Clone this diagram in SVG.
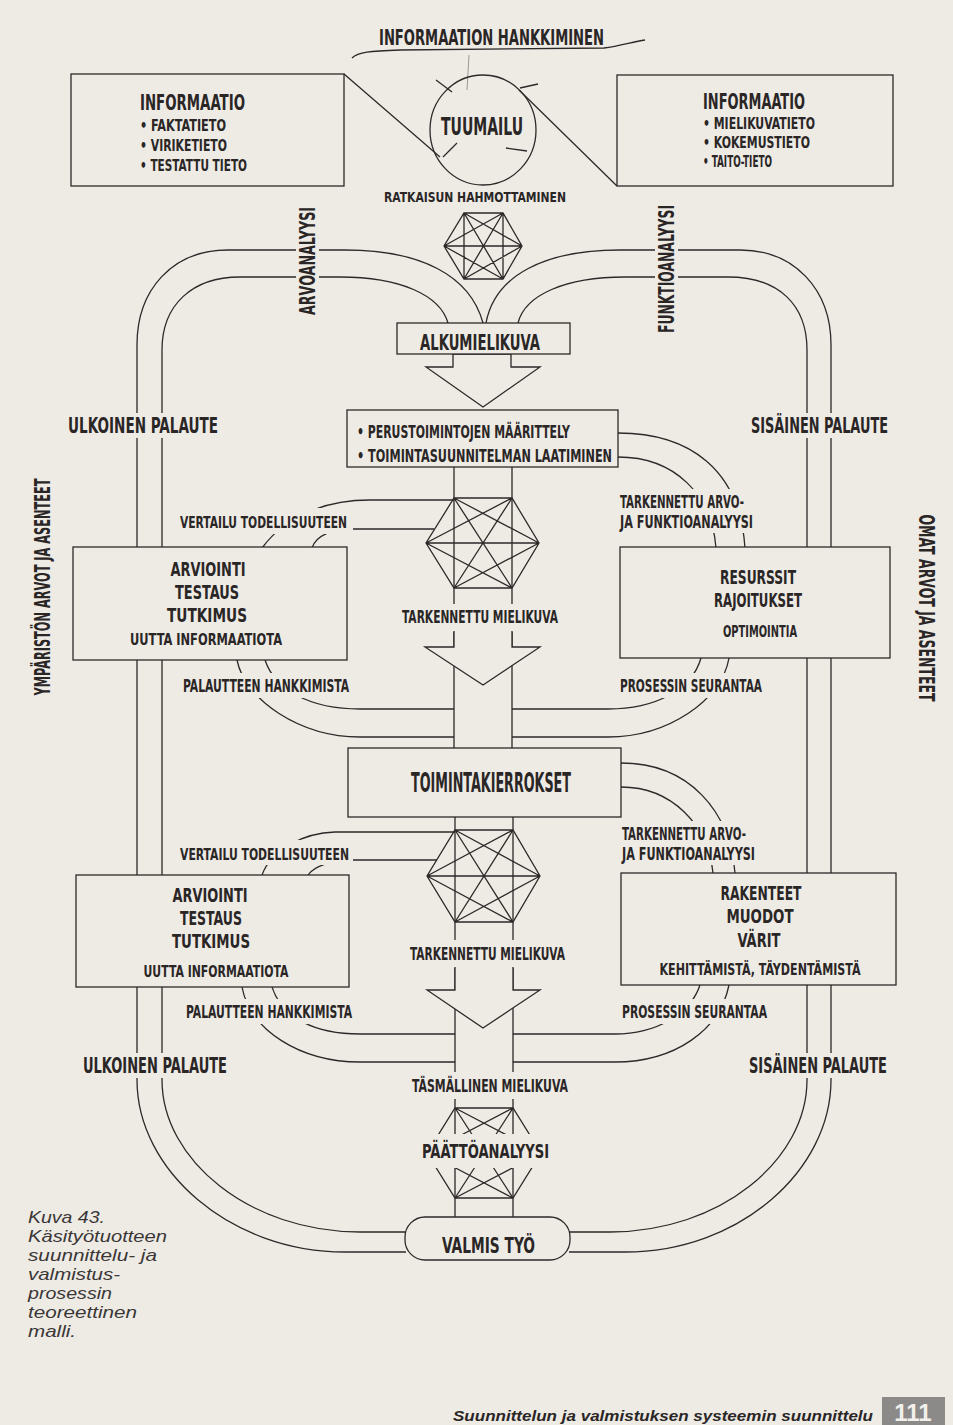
<svg xmlns="http://www.w3.org/2000/svg" width="953" height="1425" viewBox="0 0 953 1425">
<style>
.ln{fill:none;stroke:#2d2929;stroke-width:1.3}
.fa{fill:none;stroke:#9c9792;stroke-width:1}
.bx{fill:#eeebe5;stroke:#2d2929;stroke-width:1.3}
.h{fill:#eeebe5}
.t{font-family:"Liberation Sans Narrow","DejaVu Sans Condensed","Liberation Sans",sans-serif;font-weight:bold;fill:#2a2626}
.c{font-family:"Liberation Sans",Arial,sans-serif;font-style:italic;fill:#3a3636;font-size:16.5px}
</style>
<rect width="953" height="1425" fill="#eeebe5"/>

<g id="connectors">
  <!-- outer bands -->
  <path class="ln" d="M483,323 C470,275 420,250 345,250 H228 C172,250 137,290 137,345 V1080 C137,1170 230,1252 345,1252 H406"/>
  <path class="ln" d="M448,323 C440,295 400,277 340,277 H240 C192,277 162,305 162,350 V1080 C162,1160 250,1232 360,1232 H406"/>
  <path class="ln" d="M486,323 C495,275 545,250 620,250 H740 C795,250 831,290 831,345 V1080 C831,1170 740,1252 625,1252 H569"/>
  <path class="ln" d="M518,323 C525,295 565,277 625,277 H728 C779,277 807,305 807,350 V1080 C807,1160 720,1232 610,1232 H569"/>
  <!-- top -->
  <path class="ln" d="M352,58 C358,52 370,51 400,50 L604,48 C620,46 632,42 645,40"/>
  <path class="fa" d="M469,55 L467,90"/>
  <ellipse class="ln" cx="483" cy="130" rx="53" ry="55"/>
  <path class="ln" d="M344,74 L440,157 M519,90 L617,186"/>
  <path class="ln" d="M436,80 L452,92 M520,88 L538,84 M506,148 L527,151 M443,157 L457,143"/>
  <!-- hexagon 1 -->
  <path class="ln" d="M464,213 L503,213 L522,246 L503,279 L464,279 L444,246 Z M464,213 L522,246 M464,213 L503,279 M464,213 L464,279 M503,213 L503,279 M503,213 L464,279 M503,213 L444,246 M522,246 L464,279 M522,246 L444,246 M503,279 L444,246"/>
  <!-- columns -->
  <path class="ln" d="M454,467 V748 M512,467 V748 M455,817 V1217 M513,817 V1217"/>
  <!-- hexagon 2 -->
  <path class="ln" d="M454,498 L512,498 L539,543 L512,588 L454,588 L426,543 Z M454,498 L539,543 M454,498 L512,588 M512,498 L454,588 M512,498 L426,543 M539,543 L454,588 M539,543 L426,543 M512,588 L426,543"/>
  <!-- hexagon 3 -->
  <path class="ln" d="M455,830 L513,830 L540,876 L513,922 L455,922 L427,876 Z M455,830 L540,876 M455,830 L513,922 M513,830 L455,922 M513,830 L427,876 M540,876 L455,922 M540,876 L427,876 M513,922 L427,876"/>
  <!-- hexagon 4 -->
  <path class="ln" d="M455,1108 L513,1108 L541,1153 L513,1198 L455,1198 L427,1153 Z M455,1108 L541,1153 M455,1108 L513,1198 M513,1108 L455,1198 M513,1108 L427,1153 M541,1153 L455,1198 M541,1153 L427,1153 M513,1198 L427,1153"/>
  <!-- cycle 1 feedback -->
  <path class="ln" d="M454,500 H370 C335,500 290,510 262,548"/>
  <path class="ln" d="M434,529 H352 C333,529 316,535 312,548"/>
  <path class="ln" d="M237,660 C245,700 300,737 360,737 H454"/>
  <path class="ln" d="M265,660 C275,690 310,709 360,709 H454"/>
  <path class="ln" d="M618,433 C690,433 740,470 745,548"/>
  <path class="ln" d="M618,457 C675,457 712,495 716,548"/>
  <path class="ln" d="M729,658 C722,700 668,737 608,737 H512"/>
  <path class="ln" d="M701,658 C692,690 655,709 608,709 H512"/>
  <!-- cycle 2 feedback -->
  <path class="ln" d="M455,832 H335 C305,833 272,848 262,875"/>
  <path class="ln" d="M437,860 H352 C333,860 314,866 308,875"/>
  <path class="ln" d="M242,987 C250,1030 300,1062 360,1062 H455"/>
  <path class="ln" d="M272,987 C282,1018 315,1034 360,1034 H455"/>
  <path class="ln" d="M621,763 C690,763 730,812 735,873"/>
  <path class="ln" d="M621,787 C672,787 708,825 713,873"/>
  <path class="ln" d="M729,985 C720,1030 675,1062 615,1062 H513"/>
  <path class="ln" d="M700,985 C690,1015 655,1034 615,1034 H513"/>
  <!-- arrows -->
  <polygon class="bx" points="453,354 453,367 426,367 483,407 540,367 511,367 511,354"/>
  <polygon class="h" points="454,632 454,647 425,647 483,685 540,647 512,647 512,632"/>
  <polyline class="ln" points="454,632 454,647 425,647 483,685 540,647 512,647 512,632"/>
  <polygon class="h" points="455,968 455,990 427,990 483,1028 540,990 513,990 513,968"/>
  <polyline class="ln" points="455,968 455,990 427,990 483,1028 540,990 513,990 513,968"/>
</g>

<g id="title"><text class="t" x="379" y="45" font-size="21" textLength="225" lengthAdjust="spacingAndGlyphs">INFORMAATION HANKKIMINEN</text></g>

<g id="info-left">
  <rect class="bx" x="71" y="74" width="273" height="112"/>
  <text class="t" x="140" y="110" font-size="21" textLength="105" lengthAdjust="spacingAndGlyphs">INFORMAATIO</text>
  <text class="t" x="140" y="131" font-size="16.5" textLength="86" lengthAdjust="spacingAndGlyphs">• FAKTATIETO</text>
  <text class="t" x="140" y="151" font-size="16.5" textLength="87" lengthAdjust="spacingAndGlyphs">• VIRIKETIETO</text>
  <text class="t" x="140" y="171" font-size="16.5" textLength="107" lengthAdjust="spacingAndGlyphs">• TESTATTU TIETO</text>
</g>
<g id="info-right">
  <rect class="bx" x="617" y="75" width="276" height="111"/>
  <text class="t" x="703" y="109" font-size="21" textLength="102" lengthAdjust="spacingAndGlyphs">INFORMAATIO</text>
  <text class="t" x="703" y="129" font-size="16.5" textLength="112" lengthAdjust="spacingAndGlyphs">• MIELIKUVATIETO</text>
  <text class="t" x="703" y="148" font-size="16.5" textLength="107" lengthAdjust="spacingAndGlyphs">• KOKEMUSTIETO</text>
  <text class="t" x="703" y="167" font-size="16.5" textLength="69" lengthAdjust="spacingAndGlyphs">• TAITO-TIETO</text>
</g>
<g id="tuumailu"><text class="t" x="441" y="135" font-size="24" textLength="82" lengthAdjust="spacingAndGlyphs">TUUMAILU</text></g>
<g id="ratkaisu"><text class="t" x="384" y="202" font-size="14" textLength="182" lengthAdjust="spacingAndGlyphs">RATKAISUN HAHMOTTAMINEN</text></g>

<g id="arvoanalyysi">
  <rect class="h" x="296" y="204" width="23" height="115"/>
  <text class="t" x="307" y="268.5" font-size="21" text-anchor="middle" textLength="108" lengthAdjust="spacingAndGlyphs" transform="rotate(-90 307 261)">ARVOANALYYSI</text>
</g>
<g id="funktioanalyysi">
  <rect class="h" x="655" y="202" width="23" height="134"/>
  <text class="t" x="666" y="276.5" font-size="21" text-anchor="middle" textLength="128" lengthAdjust="spacingAndGlyphs" transform="rotate(-90 666 269)">FUNKTIOANALYYSI</text>
</g>
<g id="ymparisto">
  <text class="t" x="42" y="594.5" font-size="21" text-anchor="middle" textLength="217" lengthAdjust="spacingAndGlyphs" transform="rotate(-90 42 587)">YMPÄRISTÖN ARVOT JA ASENTEET</text>
</g>
<g id="omat">
  <text class="t" x="926" y="615.5" font-size="21" text-anchor="middle" textLength="187" lengthAdjust="spacingAndGlyphs" transform="rotate(90 926 608)">OMAT ARVOT JA ASENTEET</text>
</g>

<g id="alkumielikuva">
  <rect class="bx" x="397" y="323" width="173" height="31"/>
  <text class="t" x="420" y="350" font-size="21" textLength="120" lengthAdjust="spacingAndGlyphs">ALKUMIELIKUVA</text>
</g>
<g id="perustoiminnot">
  <rect class="bx" x="347" y="410" width="271" height="57"/>
  <text class="t" x="357" y="438" font-size="18" textLength="213" lengthAdjust="spacingAndGlyphs">• PERUSTOIMINTOJEN MÄÄRITTELY</text>
  <text class="t" x="357" y="462" font-size="18" textLength="255" lengthAdjust="spacingAndGlyphs">• TOIMINTASUUNNITELMAN LAATIMINEN</text>
</g>

<g id="ulkoinen1">
  <rect class="h" x="64" y="413" width="158" height="25"/>
  <text class="t" x="68" y="433" font-size="21" textLength="150" lengthAdjust="spacingAndGlyphs">ULKOINEN PALAUTE</text>
</g>
<g id="sisainen1">
  <rect class="h" x="747" y="413" width="145" height="25"/>
  <text class="t" x="751" y="433" font-size="21" textLength="137" lengthAdjust="spacingAndGlyphs">SISÄINEN PALAUTE</text>
</g>
<g id="ulkoinen2">
  <rect class="h" x="79" y="1053" width="152" height="25"/>
  <text class="t" x="83" y="1073" font-size="21" textLength="144" lengthAdjust="spacingAndGlyphs">ULKOINEN PALAUTE</text>
</g>
<g id="sisainen2">
  <rect class="h" x="745" y="1053" width="146" height="25"/>
  <text class="t" x="749" y="1073" font-size="21" textLength="138" lengthAdjust="spacingAndGlyphs">SISÄINEN PALAUTE</text>
</g>

<g id="vertailu1">
  <rect class="h" x="176" y="508" width="177" height="26"/>
  <text class="t" x="180" y="528" font-size="15" textLength="167" lengthAdjust="spacingAndGlyphs">VERTAILU TODELLISUUTEEN</text>
</g>
<g id="arviointi1">
  <rect class="bx" x="73" y="547" width="274" height="113"/>
  <text class="t" x="208" y="576" font-size="20" text-anchor="middle" textLength="75" lengthAdjust="spacingAndGlyphs">ARVIOINTI</text>
  <text class="t" x="207" y="599" font-size="20" text-anchor="middle" textLength="64" lengthAdjust="spacingAndGlyphs">TESTAUS</text>
  <text class="t" x="207" y="622" font-size="20" text-anchor="middle" textLength="80" lengthAdjust="spacingAndGlyphs">TUTKIMUS</text>
  <text class="t" x="206" y="645" font-size="16.5" text-anchor="middle" textLength="152" lengthAdjust="spacingAndGlyphs">UUTTA INFORMAATIOTA</text>
</g>
<g id="palaute-hank1">
  <rect class="h" x="179" y="673" width="173" height="25"/>
  <text class="t" x="183" y="692" font-size="17" textLength="166" lengthAdjust="spacingAndGlyphs">PALAUTTEEN HANKKIMISTA</text>
</g>
<g id="tark-arvo1">
  <rect class="h" x="616" y="489" width="142" height="44"/>
  <text class="t" x="620" y="508" font-size="17" textLength="124" lengthAdjust="spacingAndGlyphs">TARKENNETTU ARVO-</text>
  <text class="t" x="620" y="528" font-size="17" textLength="133" lengthAdjust="spacingAndGlyphs">JA FUNKTIOANALYYSI</text>
</g>
<g id="resurssit">
  <rect class="bx" x="620" y="547" width="270" height="111"/>
  <text class="t" x="758" y="584" font-size="20" text-anchor="middle" textLength="76" lengthAdjust="spacingAndGlyphs">RESURSSIT</text>
  <text class="t" x="758" y="607" font-size="20" text-anchor="middle" textLength="88" lengthAdjust="spacingAndGlyphs">RAJOITUKSET</text>
  <text class="t" x="760" y="637" font-size="16" text-anchor="middle" textLength="74" lengthAdjust="spacingAndGlyphs">OPTIMOINTIA</text>
</g>
<g id="prosessi1">
  <rect class="h" x="616" y="673" width="150" height="25"/>
  <text class="t" x="620" y="692" font-size="17" textLength="142" lengthAdjust="spacingAndGlyphs">PROSESSIN SEURANTAA</text>
</g>
<g id="tark-mieli1">
  <rect class="h" x="398" y="604" width="164" height="27"/>
  <text class="t" x="402" y="623" font-size="17" textLength="156" lengthAdjust="spacingAndGlyphs">TARKENNETTU MIELIKUVA</text>
</g>

<g id="toimintakierrokset">
  <rect class="bx" x="348" y="748" width="273" height="69"/>
  <text class="t" x="411" y="792" font-size="26" textLength="160" lengthAdjust="spacingAndGlyphs">TOIMINTAKIERROKSET</text>
</g>

<g id="vertailu2">
  <rect class="h" x="176" y="840" width="177" height="25"/>
  <text class="t" x="180" y="860" font-size="15" textLength="169" lengthAdjust="spacingAndGlyphs">VERTAILU TODELLISUUTEEN</text>
</g>
<g id="arviointi2">
  <rect class="bx" x="76" y="875" width="273" height="112"/>
  <text class="t" x="210" y="902" font-size="20" text-anchor="middle" textLength="75" lengthAdjust="spacingAndGlyphs">ARVIOINTI</text>
  <text class="t" x="211" y="925" font-size="20" text-anchor="middle" textLength="62" lengthAdjust="spacingAndGlyphs">TESTAUS</text>
  <text class="t" x="211" y="948" font-size="20" text-anchor="middle" textLength="78" lengthAdjust="spacingAndGlyphs">TUTKIMUS</text>
  <text class="t" x="216" y="977" font-size="16.5" text-anchor="middle" textLength="145" lengthAdjust="spacingAndGlyphs">UUTTA INFORMAATIOTA</text>
</g>
<g id="palaute-hank2">
  <rect class="h" x="182" y="999" width="174" height="25"/>
  <text class="t" x="186" y="1018" font-size="17" textLength="166" lengthAdjust="spacingAndGlyphs">PALAUTTEEN HANKKIMISTA</text>
</g>
<g id="tark-arvo2">
  <rect class="h" x="618" y="821" width="140" height="44"/>
  <text class="t" x="622" y="840" font-size="17" textLength="124" lengthAdjust="spacingAndGlyphs">TARKENNETTU ARVO-</text>
  <text class="t" x="622" y="860" font-size="17" textLength="133" lengthAdjust="spacingAndGlyphs">JA FUNKTIOANALYYSI</text>
</g>
<g id="rakenteet">
  <rect class="bx" x="621" y="873" width="275" height="112"/>
  <text class="t" x="761" y="900" font-size="20" text-anchor="middle" textLength="81" lengthAdjust="spacingAndGlyphs">RAKENTEET</text>
  <text class="t" x="760" y="923" font-size="20" text-anchor="middle" textLength="67" lengthAdjust="spacingAndGlyphs">MUODOT</text>
  <text class="t" x="759" y="947" font-size="20" text-anchor="middle" textLength="43" lengthAdjust="spacingAndGlyphs">VÄRIT</text>
  <text class="t" x="760" y="975" font-size="16" text-anchor="middle" textLength="201" lengthAdjust="spacingAndGlyphs">KEHITTÄMISTÄ, TÄYDENTÄMISTÄ</text>
</g>
<g id="prosessi2">
  <rect class="h" x="618" y="999" width="153" height="25"/>
  <text class="t" x="622" y="1018" font-size="17" textLength="145" lengthAdjust="spacingAndGlyphs">PROSESSIN SEURANTAA</text>
</g>
<g id="tark-mieli2">
  <rect class="h" x="406" y="940" width="163" height="27"/>
  <text class="t" x="410" y="960" font-size="17" textLength="155" lengthAdjust="spacingAndGlyphs">TARKENNETTU MIELIKUVA</text>
</g>
<g id="tasmallinen">
  <rect class="h" x="408" y="1072" width="164" height="27"/>
  <text class="t" x="412" y="1092" font-size="17" textLength="156" lengthAdjust="spacingAndGlyphs">TÄSMÄLLINEN MIELIKUVA</text>
</g>
<g id="paattoanalyysi">
  <rect class="h" x="418" y="1134" width="135" height="34"/>
  <text class="t" x="422" y="1158" font-size="19" textLength="127" lengthAdjust="spacingAndGlyphs">PÄÄTTÖANALYYSI</text>
</g>
<g id="valmis">
  <rect class="bx" x="405" y="1217" width="165" height="43" rx="20"/>
  <text class="t" x="442" y="1253" font-size="22" textLength="93" lengthAdjust="spacingAndGlyphs">VALMIS TYÖ</text>
</g>

<g id="caption">
  <text class="c" x="28" y="1223" textLength="77" lengthAdjust="spacingAndGlyphs">Kuva 43.</text>
  <text class="c" x="28" y="1242" textLength="139" lengthAdjust="spacingAndGlyphs">Käsityötuotteen</text>
  <text class="c" x="28" y="1261" textLength="129" lengthAdjust="spacingAndGlyphs">suunnittelu- ja</text>
  <text class="c" x="28" y="1280" textLength="92" lengthAdjust="spacingAndGlyphs">valmistus-</text>
  <text class="c" x="28" y="1299" textLength="84" lengthAdjust="spacingAndGlyphs">prosessin</text>
  <text class="c" x="28" y="1318" textLength="109" lengthAdjust="spacingAndGlyphs">teoreettinen</text>
  <text class="c" x="28" y="1337" textLength="48" lengthAdjust="spacingAndGlyphs">malli.</text>
</g>
<g id="footer">
  <text x="453" y="1421" font-family="Liberation Sans, Arial, sans-serif" font-weight="bold" font-style="italic" font-size="15" fill="#2a2626" textLength="420" lengthAdjust="spacingAndGlyphs">Suunnittelun ja valmistuksen systeemin suunnittelu</text>
  <rect x="882" y="1397" width="63" height="28" fill="#8c8a88"/>
  <text x="913" y="1421" font-family="Liberation Sans, Arial, sans-serif" font-weight="bold" font-size="24" fill="#f2f0ec" text-anchor="middle">111</text>
</g>
</svg>
